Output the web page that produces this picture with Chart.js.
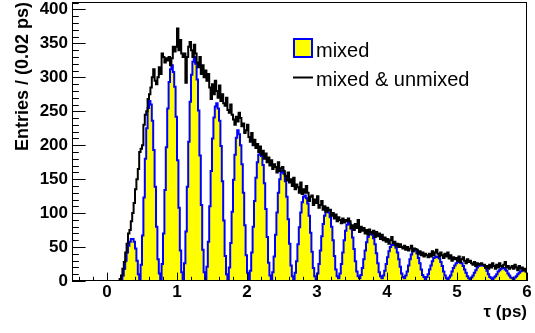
<!DOCTYPE html>
<html>
<head>
<meta charset="utf-8">
<script src="https://cdn.jsdelivr.net/npm/chart.js@4.4.1/dist/chart.umd.min.js"></script>
<style>
html, body { margin: 0; padding: 0; background: #fff; }
</style>
</head>
<body>
<canvas id="chart" width="535" height="333"></canvas>
<script>
// histogram binning, tau in ps
const binStart = -0.5;
const binWidth = 0.02;

// entries per 0.02 ps bin, rows of 10 bins starting at -0.5
const mixedUnmixed = [
    0, 0, 0, 0, 0, 0, 0, 0, 0, 0,
    0, 0, 0, 0, 0, 0, 0, 0, 0, 0,
    0, 0, 0, 0, 0, 0, 0, 0, 0, 0,
    0, 0, 0, 0, 3, 8, 18, 28, 42, 55,
    70, 75, 88, 100, 115, 135, 150, 165, 190, 195,
    200, 230, 245, 250, 268, 275, 285, 300, 312, 295,
    290, 300, 315, 305, 335, 330, 322, 328, 325, 330,
    318, 328, 345, 338, 345, 372, 340, 355, 335, 330,
    335, 292, 330, 345, 352, 340, 330, 348, 335, 322,
    315, 330, 305, 318, 300, 310, 295, 305, 285, 268,
    290, 275, 295, 280, 270, 288, 265, 275, 262, 258,
    270, 252, 248, 260, 245, 238, 230, 242, 235, 248,
    240, 228, 232, 218, 222, 230, 212, 205, 218, 200,
    208, 196, 202, 190, 198, 186, 192, 180, 188, 175,
    182, 170, 178, 165, 172, 168, 160, 175, 162, 166,
    168, 162, 155, 148, 160, 145, 150, 140, 152, 135,
    142, 138, 130, 145, 128, 135, 130, 140, 130, 118,
    124, 126, 112, 120, 115, 125, 108, 112, 118, 105,
    110, 102, 108, 104, 105, 96, 100, 92, 98, 88,
    94, 90, 85, 92, 86, 90, 88, 92, 88, 78,
    82, 75, 84, 78, 90, 72, 80, 74, 78, 70,
    75, 68, 76, 72, 70, 74, 65, 72, 66, 70,
    62, 68, 60, 64, 58, 62, 55, 60, 65, 56,
    58, 52, 55, 50, 54, 50, 48, 52, 46, 50,
    45, 48, 52, 44, 48, 47, 46, 40, 44, 38,
    42, 36, 40, 38, 35, 40, 36, 44, 38, 42,
    46, 40, 36, 42, 38, 34, 40, 36, 42, 33,
    38, 30, 35, 32, 34, 30, 36, 28, 32, 35,
    30, 26, 32, 28, 30, 26, 24, 28, 22, 26,
    24, 25, 26, 24, 24, 20, 22, 18, 24, 20,
    26, 22, 18, 24, 20, 26, 22, 21, 24, 28,
    20, 22, 18, 20, 22, 18, 24, 20, 16, 22,
    18, 20, 16, 18, 14
];

const mixed = [
    0, 0, 0, 0, 0, 0, 0, 0, 0, 0,
    0, 0, 0, 0, 0, 0, 0, 0, 0, 0,
    0, 0, 0, 0, 0, 0, 0, 0, 0, 0,
    0, 0, 0, 0, 0, 2, 8, 18, 30, 42,
    52, 58, 62, 62, 58, 48, 30, 10, 0, 24,
    67, 123, 180, 225, 255, 265, 260, 236, 193, 139,
    80, 32, 11, 2, 25, 70, 134, 197, 254, 293,
    312, 318, 308, 286, 242, 178, 108, 45, 13, 2,
    26, 73, 139, 205, 264, 304, 323, 330, 320, 297,
    251, 185, 112, 46, 13, 2, 21, 58, 110, 162,
    210, 241, 257, 262, 254, 236, 199, 147, 89, 37,
    10, 2, 20, 56, 102, 149, 186, 211, 222, 216,
    200, 172, 130, 82, 38, 12, 2, 15, 42, 80,
    118, 152, 175, 186, 190, 184, 171, 144, 106, 65,
    27, 8, 2, 13, 36, 68, 101, 130, 150, 160,
    163, 158, 147, 124, 91, 55, 23, 7, 2, 12,
    29, 54, 79, 101, 116, 124, 126, 122, 114, 96,
    71, 43, 19, 7, 3, 11, 25, 45, 66, 84,
    96, 102, 104, 101, 94, 80, 60, 37, 17, 7,
    4, 11, 25, 42, 60, 74, 83, 87, 84, 77,
    64, 47, 29, 14, 7, 4, 9, 19, 32, 45,
    57, 65, 69, 70, 68, 63, 54, 41, 26, 13,
    7, 4, 8, 15, 25, 35, 44, 50, 53, 54,
    53, 49, 42, 32, 21, 11, 6, 4, 8, 14,
    23, 32, 39, 44, 46, 45, 41, 34, 26, 17,
    9, 6, 3, 6, 10, 17, 23, 29, 34, 35,
    36, 35, 33, 28, 22, 14, 8, 4, 3, 5,
    8, 14, 19, 23, 26, 28, 28, 27, 26, 22,
    17, 12, 7, 4, 3, 5, 8, 12, 16, 20,
    22, 23, 24, 23, 22, 19, 15, 10, 6, 4,
    3, 5, 7, 10, 14, 16, 18, 19, 19, 17,
    15, 11, 8, 5, 4, 3, 5, 7, 10, 12,
    14, 15, 16, 17, 14
];

const xTicks = [0, 1, 2, 3, 4, 5, 6];
const yTicks = [0, 50, 100, 150, 200, 250, 300, 350, 400];
const seriesNames = ['mixed', 'mixed & unmixed'];

const fontFamily = '"Liberation Sans", Arial, Helvetica, sans-serif';

function toSteps(values) {
    // one point per lower bin edge, plus the closing edge
    const pts = values.map((v, i) => ({ x: binStart + i * binWidth, y: v }));
    pts.push({ x: binStart + values.length * binWidth, y: values[values.length - 1] });
    return pts;
}

// frame, inward ticks (ROOT style) and the legend box
const rootDecor = {
    id: 'rootDecor',
    afterDatasetsDraw(chart) {
        const ctx = chart.ctx;
        const a = chart.chartArea;
        const xs = chart.scales.x;
        const ys = chart.scales.y;
        ctx.save();
        ctx.strokeStyle = '#000';
        ctx.lineWidth = 1;
        ctx.beginPath();
        for (let v = 0; v <= 410; v += 10) {
            const y = Math.round(ys.getPixelForValue(v)) + 0.5;
            const len = v % 50 === 0 ? 13.6 : 6.8;
            ctx.moveTo(a.left, y);
            ctx.lineTo(a.left + len, y);
        }
        for (let k = -2; k <= 30; k++) {
            const x = Math.round(xs.getPixelForValue(k * 0.2)) + 0.5;
            const len = k % 5 === 0 ? 8.4 : 4.2;
            ctx.moveTo(x, a.bottom);
            ctx.lineTo(x, a.bottom - len);
        }
        ctx.stroke();
        ctx.strokeRect(a.left + 0.5, a.top + 0.5, a.right - a.left - 1, a.bottom - a.top - 1);
        ctx.restore();
    },
    afterDraw(chart) {
        const ctx = chart.ctx;
        ctx.save();
        ctx.fillStyle = '#ffff00';
        ctx.fillRect(294, 39, 18, 18);
        ctx.strokeStyle = '#0000ff';
        ctx.lineWidth = 2;
        ctx.strokeRect(294, 39, 18, 18);
        ctx.strokeStyle = '#000';
        ctx.beginPath();
        ctx.moveTo(293, 77.5);
        ctx.lineTo(313, 77.5);
        ctx.stroke();
        ctx.fillStyle = '#000';
        ctx.font = '20px ' + fontFamily;
        ctx.textAlign = 'left';
        ctx.textBaseline = 'alphabetic';
        ctx.fillText(seriesNames[0], 316, 57);
        ctx.fillText(seriesNames[1], 316, 86);
        ctx.restore();
    }
};

function drawChart() {
    const ctx = document.getElementById('chart');
    const tickFont = { family: fontFamily, size: 17, weight: 'bold' };

    new Chart(ctx, {
        type: 'line',
        data: {
            datasets: [{
                label: seriesNames[1],
                data: toSteps(mixedUnmixed),
                borderColor: '#000000',
                borderWidth: 2,
                fill: false,
                stepped: 'before',
                pointRadius: 0
            }, {
                label: seriesNames[0],
                data: toSteps(mixed),
                borderColor: '#0000ff',
                backgroundColor: '#ffff00',
                borderWidth: 2,
                fill: 'origin',
                stepped: 'before',
                pointRadius: 0
            }]
        },
        options: {
            responsive: false,
            animation: false,
            devicePixelRatio: 1,
            layout: { padding: { left: 0, right: 8, top: 2, bottom: 0 } },
            plugins: {
                legend: { display: false },
                tooltip: { enabled: false }
            },
            scales: {
                x: {
                    type: 'linear',
                    min: -0.5,
                    max: 6,
                    grid: { display: false, drawTicks: false },
                    border: { display: false },
                    ticks: { font: tickFont, color: '#000', padding: 1, maxRotation: 0 },
                    afterBuildTicks: s => { s.ticks = xTicks.map(v => ({ value: v })); },
                    afterFit: s => { s.height = 52; s.paddingLeft = 0; s.paddingRight = 0; },
                    title: {
                        display: true,
                        text: 'τ (ps)',
                        align: 'end',
                        color: '#000',
                        font: tickFont,
                        padding: { top: 0, bottom: 10 }
                    }
                },
                y: {
                    type: 'linear',
                    min: 0,
                    max: 411,
                    grid: { display: false, drawTicks: false },
                    border: { display: false },
                    ticks: { font: tickFont, color: '#000', padding: 4 },
                    afterBuildTicks: s => { s.ticks = yTicks.map(v => ({ value: v })); },
                    afterFit: s => { s.width = 72; s.paddingTop = 0; s.paddingBottom = 0; },
                    title: {
                        display: true,
                        text: 'Entries / (0.02 ps)',
                        align: 'end',
                        color: '#000',
                        font: { family: fontFamily, size: 18, weight: 'bold' },
                        padding: { top: 12, bottom: 0 }
                    }
                }
            }
        },
        plugins: [rootDecor]
    });
}

drawChart();
</script>
</body>
</html>
